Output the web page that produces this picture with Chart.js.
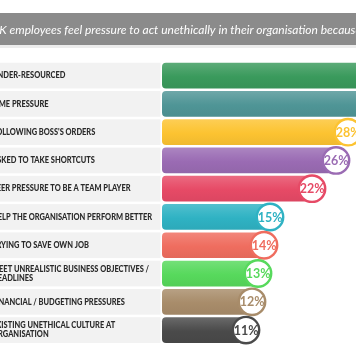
<!DOCTYPE html>
<html>
<head>
<meta charset="utf-8">
<script src="https://cdn.jsdelivr.net/npm/chart.js@4/dist/chart.umd.min.js"></script>
<style>
html,body{margin:0;padding:0;background:#fff;}
canvas{display:block;}
</style>
</head>
<body>
<canvas id="c" width="356" height="364"></canvas>
<script>
const titleText = "UK employees feel pressure to act unethically in their organisation because...";
const categories = [
  ["UNDER-RESOURCED"],
  ["TIME PRESSURE"],
  ["FOLLOWING BOSS'S ORDERS"],
  ["ASKED TO TAKE SHORTCUTS"],
  ["PEER PRESSURE TO BE A TEAM PLAYER"],
  ["HELP THE ORGANISATION PERFORM BETTER"],
  ["TRYING TO SAVE OWN JOB"],
  ["MEET UNREALISTIC BUSINESS OBJECTIVES /", "DEADLINES"],
  ["FINANCIAL / BUDGETING PRESSURES"],
  ["EXISTING UNETHICAL CULTURE AT", "ORGANISATION"]
];
const values = [36, 33, 28, 26, 22, 15, 14, 13, 12, 11];
const colors = ["#3a9a5c", "#4f9596", "#fcc331", "#9a6bb3", "#e64a66", "#2fb2c3", "#ef6d5f", "#57d95c", "#a88c6a", "#4a4a4a"];
const barBase = -3;

function shade(hex, amt) {
  const n = parseInt(hex.slice(1), 16);
  let r = (n >> 16) & 255, g = (n >> 8) & 255, b = n & 255;
  const f = c => Math.round(amt >= 0 ? c + (255 - c) * amt : c * (1 + amt));
  return `rgb(${f(r)},${f(g)},${f(b)})`;
}

const decor = {
  id: 'decor',
  beforeDraw(chart) {
    const ctx = chart.ctx;
    ctx.save();
    ctx.fillStyle = '#ffffff';
    ctx.fillRect(0, 0, chart.width, chart.height);
    ctx.fillStyle = '#ececec';
    ctx.fillRect(0, 45, chart.width, 3);
    ctx.fillStyle = '#8b8b8b';
    ctx.fillRect(0, 13, chart.width, 32);
    ctx.fillStyle = '#ffffff';
    ctx.font = 'italic 12px Lato';
    ctx.textBaseline = 'middle';
    ctx.textAlign = 'left';
    ctx.fillText(titleText, -9, 30);
    ctx.restore();
  },
  beforeDatasetsDraw(chart) {
    const ctx = chart.ctx, xs = chart.scales.x;
    const meta = chart.getDatasetMeta(0);
    ctx.save();
    const xEnd = xs.getPixelForValue(barBase) - 1.5;
    meta.data.forEach((bar, i) => {
      const h = bar.height;
      ctx.fillStyle = '#f2f2f2';
      ctx.fillRect(0, bar.y - h / 2, xEnd, h);
      const lines = categories[i];
      ctx.fillStyle = '#2a2a2a';
      ctx.font = '900 8.4px Lato';
      ctx.textBaseline = 'middle';
      ctx.textAlign = 'left';
      const lh = 9;
      lines.forEach((t, k) => {
        ctx.save();
        ctx.translate(-8, bar.y + (k - (lines.length - 1) / 2) * lh);
        ctx.scale(0.89, 1);
        ctx.fillText(t, 0, 0);
        ctx.restore();
      });
    });
    ctx.restore();
  },
  afterDatasetsDraw(chart) {
    const ctx = chart.ctx, xs = chart.scales.x;
    const meta = chart.getDatasetMeta(0);
    ctx.save();
    meta.data.forEach((bar, i) => {
      const x = xs.getPixelForValue(values[i]);
      const y = bar.y;
      ctx.beginPath();
      ctx.arc(x, y, 13.2, 0, Math.PI * 2);
      ctx.fillStyle = '#ffffff';
      ctx.fill();
      ctx.lineWidth = 2.4;
      ctx.strokeStyle = colors[i];
      ctx.stroke();
      ctx.fillStyle = colors[i];
      ctx.font = 'bold 12.5px Lato';
      ctx.textAlign = 'center';
      ctx.textBaseline = 'middle';
      ctx.fillText(values[i] + '%', x, y + 0.5);
    });
    ctx.restore();
  }
};

new Chart(document.getElementById('c'), {
  type: 'bar',
  data: {
    labels: categories,
    datasets: [{
      data: values.map(v => [barBase, v]),
      backgroundColor(ctx) {
        const chart = ctx.chart;
        const ys = chart.scales.y;
        const i = ctx.dataIndex;
        const c = colors[i || 0];
        if (!ys || i === undefined) return c;
        const y = ys.getPixelForValue(i);
        if (!isFinite(y)) return c;
        const g = chart.ctx.createLinearGradient(0, y - 13, 0, y + 13);
        g.addColorStop(0, shade(c, 0.18));
        g.addColorStop(0.35, shade(c, 0.06));
        g.addColorStop(0.55, c);
        g.addColorStop(1, shade(c, -0.05));
        return g;
      },
      borderRadius: 4,
      borderSkipped: false,
      categoryPercentage: 1,
      barPercentage: 0.91
    }]
  },
  options: {
    indexAxis: 'y',
    responsive: false,
    animation: false,
    layout: { padding: { top: 61.5, bottom: 19.8, left: 0, right: 0 } },
    plugins: { legend: { display: false }, tooltip: { enabled: false }, title: { display: false } },
    scales: {
      x: { display: false, min: -30, max: 29.33 },
      y: { display: false }
    }
  },
  plugins: [decor]
});
</script>
</body>
</html>
